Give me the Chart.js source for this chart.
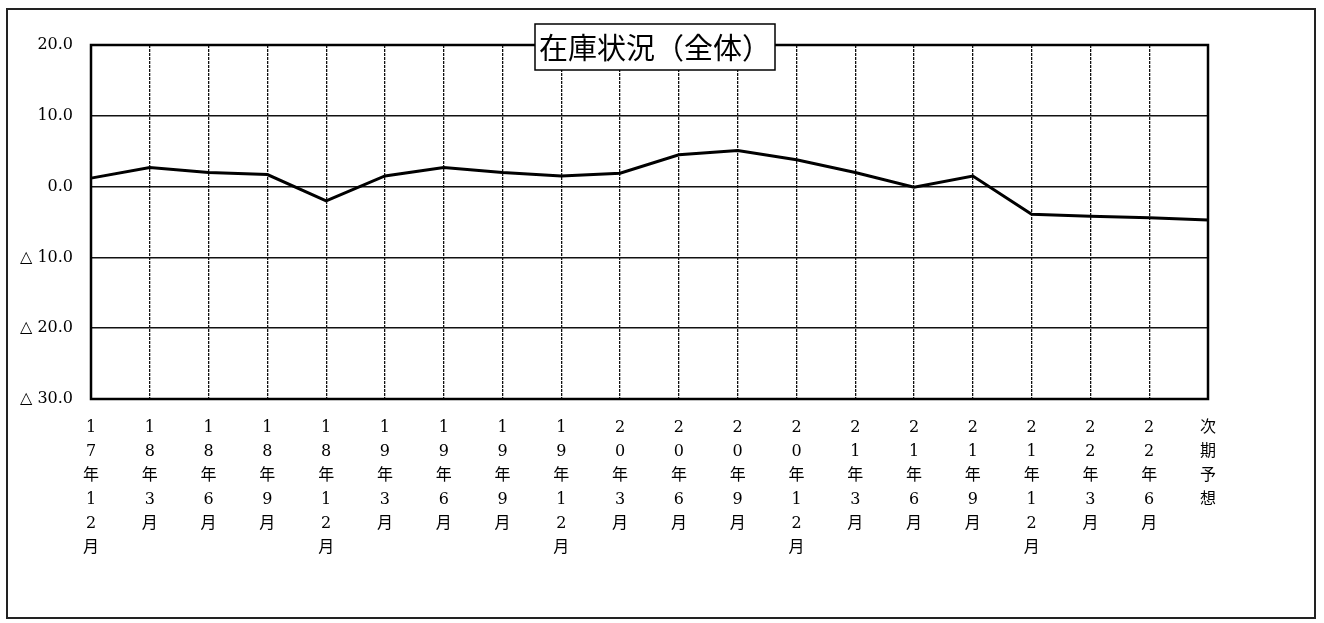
<!DOCTYPE html>
<html>
<head>
<meta charset="utf-8">
<script src="https://cdn.jsdelivr.net/npm/chart.js@4"></script>
<style>
  body { margin: 0; background: #fff; }
  #wrap { position: relative; width: 1324px; height: 623px; }
  #frame {
    position: absolute; left: 6px; top: 8px; width: 1310px; height: 611px;
    border: 2px solid #222; box-sizing: border-box; pointer-events: none;
  }
</style>
</head>
<body>
<div id="wrap">
  <canvas id="myChart" width="1324" height="623"></canvas>
  <div id="frame"></div>
</div>
<script>
const chartTitle = "在庫状況（全体）";

const periods = [
  "17年12月", "18年3月", "18年6月", "18年9月", "18年12月",
  "19年3月", "19年6月", "19年9月", "19年12月", "20年3月",
  "20年6月", "20年9月", "20年12月", "21年3月", "21年6月",
  "21年9月", "21年12月", "22年3月", "22年6月", "次期予想",
];

const stockValues = [
  1.2, 2.7, 2.0, 1.7, -2.0,
  1.5, 2.7, 2.0, 1.5, 1.9,
  4.5, 5.1, 3.8, 2.0, -0.1,
  1.5, -3.9, -4.2, -4.4, -4.7,
];

const yMin = -30;
const yMax = 20;
const yStep = 10;

const labelFont = "'DejaVu Serif', 'Noto Sans CJK JP', serif";

// plot frame + title box
const framePlugin = {
  id: "framePlugin",
  beforeDatasetsDraw(chart) {
    const { ctx, chartArea: a } = chart;
    ctx.save();
    ctx.strokeStyle = "#000";
    ctx.lineWidth = 2.5;
    ctx.strokeRect(a.left, a.top, a.right - a.left, a.bottom - a.top);
    ctx.restore();
  },
  afterDraw(chart) {
    const ctx = chart.ctx;
    ctx.save();
    ctx.font = "29px 'Noto Sans CJK JP', sans-serif";
    const w = ctx.measureText(chartTitle).width + 8;
    const cx = 655;
    const x = cx - w / 2;
    const y = 24;
    const h = 46;
    ctx.fillStyle = "#fff";
    ctx.fillRect(x, y, w, h);
    ctx.strokeStyle = "#000";
    ctx.lineWidth = 1.5;
    ctx.strokeRect(x, y, w, h);
    ctx.fillStyle = "#000";
    ctx.textAlign = "center";
    ctx.textBaseline = "middle";
    ctx.fillText(chartTitle, cx, y + h / 2 + 1);
    ctx.restore();
  },
};

const ctx = document.getElementById("myChart");

const myChart = new Chart(ctx, {
  type: "line",
  data: {
    labels: periods,
    datasets: [
      {
        label: chartTitle,
        data: stockValues,
        borderColor: "#000",
        borderWidth: 3,
        pointRadius: 0,
        tension: 0,
        fill: false,
      },
    ],
  },
  options: {
    responsive: false,
    animation: false,
    layout: { padding: { top: 45, right: 116, left: 0, bottom: 0 } },
    plugins: {
      legend: { display: false },
      title: { display: false },
      tooltip: { enabled: false },
    },
    scales: {
      x: {
        offset: false,
        grid: {
          color: "#111",
          lineWidth: 1.3,
          drawTicks: false,
        },
        border: { display: false, dash: [3, 1] },
        ticks: {
          autoSkip: false,
          maxRotation: 0,
          minRotation: 0,
          padding: 17,
          color: "#000",
          font: { family: labelFont, size: 16, lineHeight: "24px" },
          callback: function (v) {
            return Array.from(this.getLabelForValue(v));
          },
        },
        afterFit: (scale) => {
          scale.height = 224;
        },
      },
      y: {
        min: yMin,
        max: yMax,
        grid: {
          color: "#111",
          lineWidth: 1.6,
          drawTicks: false,
        },
        border: { display: false },
        ticks: {
          stepSize: yStep,
          padding: 18,
          color: "#000",
          font: { family: labelFont, size: 16 },
          callback: (v) => (v < 0 ? "△ " + Math.abs(v).toFixed(1) : v.toFixed(1)),
        },
        afterFit: (scale) => {
          scale.width = 91;
        },
      },
    },
  },
  plugins: [framePlugin],
});
</script>
</body>
</html>
